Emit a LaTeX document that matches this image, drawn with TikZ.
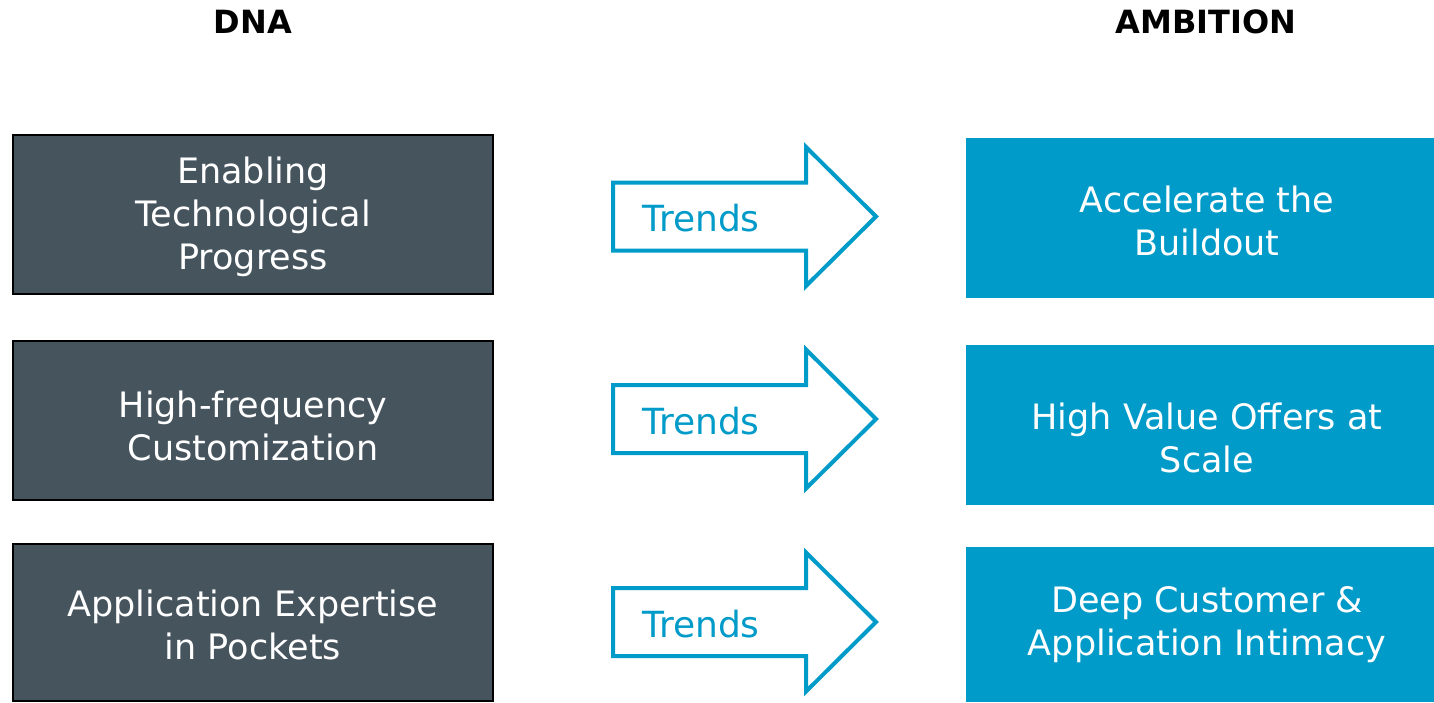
\documentclass[tikz,border=0pt]{standalone}
\usepackage{fontspec}
\setmainfont{DejaVu Sans}
\definecolor{dnagray}{HTML}{46545E}
\definecolor{ambblue}{HTML}{009BC8}
\begin{document}
\begin{tikzpicture}[x=0.5pt,y=-0.5pt,line join=miter,font=\fontsize{17.5}{21.5}\selectfont]
	\tikzset{
		dnabox/.style={draw=black,line width=1pt,fill=dnagray,minimum width=240pt,inner sep=0pt},
		ambbox/.style={fill=ambblue,minimum width=234pt,inner sep=0pt},
		boxtext/.style={text=white,align=center,inner sep=0pt},
		trendarrow/.style={draw=ambblue,line width=2pt},
		trendtext/.style={text=ambblue,inner sep=0pt,font=\fontsize{18}{21.5}\selectfont},
		headtext/.style={font=\fontsize{16}{19}\selectfont\bfseries,inner sep=0pt}
	}
	\useasboundingbox (0,0) rectangle (1434,702);
	% headers
	\node[headtext] (dnahead) at (253,22) {DNA};
	\node[headtext] (ambhead) at (1206,22) {AMBITION};
	% left column
	\node[dnabox,minimum height=79.5pt] (dna1) at (253,214.5) {};
	\node[dnabox,minimum height=79.5pt] (dna2) at (253,420.5) {};
	\node[dnabox,minimum height=78.5pt] (dna3) at (253,622.5) {};
	\node[boxtext] (dna1text) at (253,217) {Enabling\\Technological\\Progress};
	\node[boxtext] (dna2text) at (253,426) {High-frequency\\Customization};
	\node[boxtext] (dna3text) at (253,625) {Application Expertise\\in Pockets};
	% right column
	\node[ambbox,minimum height=80pt] (amb1) at (1200,218) {};
	\node[ambbox,minimum height=80pt] (amb2) at (1200,425) {};
	\node[ambbox,minimum height=77.5pt] (amb3) at (1200,624.5) {};
	\node[boxtext] (amb1text) at (1207,221) {Accelerate the\\Buildout};
	\node[boxtext] (amb2text) at (1207,438) {High Value Offers at\\Scale};
	\node[boxtext] (amb3text) at (1207,625) {Deep Customer \&\\Application Intimacy};
	% trend arrows
	\foreach \c/\n in {216.5/1,419/2,622/3}{
		\draw[trendarrow] (613,\c-34) -- (806,\c-34) -- (806,\c-69.5) -- (876,\c)
			-- (806,\c+69.5) -- (806,\c+34) -- (613,\c+34) -- cycle;
		\node[trendtext] (trend\n) at (701,\c+2) {Trends};
	}
\end{tikzpicture}
\end{document}
